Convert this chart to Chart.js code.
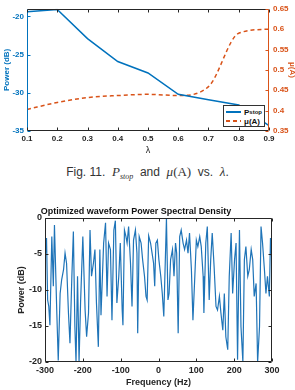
<!DOCTYPE html>
<html>
<head>
<meta charset="utf-8">
<script src="https://cdn.jsdelivr.net/npm/chart.js@4.4.0/dist/chart.umd.min.js"></script>
<style>
  html, body { margin: 0; padding: 0; background: #fff; width: 295px; height: 390px; overflow: hidden; }
  canvas { position: absolute; left: 0; }
  #topChart { top: 0; }
  #psdChart { top: 200px; }
  #caption {
    position: absolute; left: 0; top: 164px; width: 295px; text-align: center;
    font: 12px "Liberation Sans", Arial, sans-serif; color: #333; white-space: nowrap;
  }
  #caption .m { font-family: "Liberation Serif", "DejaVu Serif", serif; font-size: 13px; }
  #caption sub { font-family: "Liberation Serif", serif; font-style: italic; font-size: 8px; vertical-align: -3px; }
  #legend {
    position: absolute; left: 223px; top: 105px; width: 40px; height: 20px;
    border: 1px solid #333; background: #fff;
    font: bold 8px "Liberation Sans", Arial, sans-serif; color: #111;
  }
  #legend .row { position: absolute; left: 2px; height: 10px; display: flex; align-items: center; }
  #legend .sw { width: 15px; height: 1.5px; margin-right: 3px; }
  #legend .solid { background: #0072BD; }
  #legend .dash { background: repeating-linear-gradient(90deg, #D95319 0 4px, transparent 4px 7px); }
  #legend sub { font-size: 6px; vertical-align: -2px; }
</style>
</head>
<body>
<canvas id="topChart" width="295" height="160"></canvas>
<div id="legend">
  <div class="row" style="top:1px"><span class="sw solid"></span>P<sub>stop</sub></div>
  <div class="row" style="top:10px"><span class="sw dash"></span><span>&mu;(A)</span></div>
</div>
<div id="caption">Fig. 11.&nbsp; <i class="m">P</i><sub>stop</sub>&nbsp; and&nbsp; <i class="m">&mu;</i><span class="m">(A)</span>&nbsp; vs.&nbsp; <i class="m">&lambda;</i>.</div>
<canvas id="psdChart" width="295" height="190"></canvas>

<script>
// ---- Fig. 11 data ----
const lambdaVals = [0.1, 0.2, 0.3, 0.4, 0.5, 0.6, 0.7, 0.8, 0.9];
const pStop = [-19.4, -19.1, -22.9, -25.9, -27.4, -30.2, -30.9, -31.6, -34.3];
const muA = [0.403, 0.420, 0.432, 0.437, 0.440, 0.437, 0.459, 0.590, 0.600];
const lambdaTicks = [0.1, 0.2, 0.3, 0.4, 0.5, 0.6, 0.7, 0.8, 0.9];
const powerTicks = [-35, -30, -25, -20];
const muTicks = [0.35, 0.4, 0.45, 0.5, 0.55, 0.6, 0.65];

// ---- PSD data ----
const freqHz = [-300, -296, -293, -290, -287, -282, -278, -275, -269, -265, -260, -256, -251, -247, -243,
  -238, -234, -229, -225, -221, -218, -214, -210, -206, -200, -194, -190, -185, -181, -177, -172, -168,
  -164, -159, -155, -152, -145, -140, -136, -132, -127, -123, -118, -114, -110, -105, -101, -96, -94,
  -90, -86, -83, -79, -74, -70, -66, -61, -57, -55, -51, -46, -42, -37, -33, -30, -26, -21, -17, -13,
  -10, -7, -3, 1, 6, 10, 14, 21, 25, 28, 32, 37, 41, 45, 48, 52, 56, 60, 65, 69, 74, 78, 82, 87, 91,
  96, 100, 104, 109, 113, 118, 120, 125, 129, 134, 138, 142, 147, 152, 156, 161, 165, 170, 174, 178,
  183, 187, 192, 196, 201, 205, 209, 214, 218, 223, 227, 231, 236, 240, 245, 249, 253, 258, 262, 267,
  271, 275, 280, 284, 288, 293, 296, 300];
const psdDb = [-5.8, -2.8, -11.4, -12.3, -14.9, -2.6, -9.5, -1.0, -12.8, -19.8, -10.5, -8.6, -7.2, -4.9, -6.3,
  -13.2, -17.4, -8.1, -1.9, -15.1, -20, -8.1, -20, -11.8, -2.6, -12.8, -16.5, -13.2, -1.7, -8.1, -6.3, -4.4,
  -11.8, -17.9, -4.4, -13.5, -3.5, -0.7, -10.9, -3.5, -4.4, -14.2, -1.7, -0.4, -11.8, -8.1, -3.5, -12.8, -14.9,
  -1.7, -2.6, -3.5, -1.2, -6.3, -12.3, -3.1, -1.7, -4.9, -16, -2.6, -3.5, -5.8, -8.1, -10.9, -11.4, -2.5, -3.5, -4.9, -6.3,
  -9.5, -3.5, -3.1, -5.8, -8.1, -10.5, -13.7, -0.1, -11.4, -10.5, -5.8, -4.4, -8.1, -3.5, -4.9, -16, -2.6, -1.7, -3.5, -4.4, -3.1, -4.9, -2.1, -7.2, -14.2,
  -8.1, -3.1, -4.0, -2.6, -4.0, -8.1, -13.2, -3.5, -1.2, -11.4, -5.8, -2.1, -6.8, -12.3, -12.8, -10.9, -13.2, -15.6, -10.5, -16.5,
  -18.3, -8.1, -2.1, -10.5, -5.8, -3.5, -19.7, -1.7, -15.1, -20, -5.8, -4.0, -8.1, -7.2, -4.4, -5.8, -10.9, -9.1, -20, -15.1,
  -1.2, -3.5, -7.2, -10.5, -8.1, -10.9, -2.8, -6.3];
const freqTicks = [-300, -200, -100, 0, 100, 200, 300];
const psdTicks = [-20, -15, -10, -5, 0];

const BLUE = "#0072BD";
const ORANGE = "#D95319";
const AXIS = "#262626";
const FONT = "'Liberation Sans', Arial, sans-serif";

// frame with inward ticks, MATLAB style
const framePlugin = {
  id: "frame",
  afterDatasetsDraw(chart, args, opts) {
    const { ctx, chartArea: a, scales } = chart;
    const L = Math.round(a.left) + 0.5, R = Math.round(a.right) - 0.5;
    const T = Math.round(a.top) + 0.5, B = Math.round(a.bottom) - 0.5;
    const seg = (x1, y1, x2, y2, c) => {
      ctx.strokeStyle = c; ctx.beginPath(); ctx.moveTo(x1, y1); ctx.lineTo(x2, y2); ctx.stroke();
    };
    ctx.save();
    ctx.lineWidth = 1;
    seg(L, T, R, T, AXIS);
    seg(L, B, R, B, AXIS);
    seg(L, T, L, B, opts.leftColor || AXIS);
    seg(R, T, R, B, opts.rightColor || AXIS);
    const tl = 3;
    scales.x.ticks.forEach(t => {
      const x = Math.round(scales.x.getPixelForValue(t.value)) + 0.5;
      seg(x, B, x, B - tl, AXIS);
      seg(x, T, x, T + tl, AXIS);
    });
    scales.y.ticks.forEach(t => {
      const y = Math.round(scales.y.getPixelForValue(t.value)) + 0.5;
      seg(L, y, L + tl, y, opts.leftColor || AXIS);
      if (!scales.y1) seg(R, y, R - tl, y, AXIS);
    });
    if (scales.y1) {
      scales.y1.ticks.forEach(t => {
        const y = Math.round(scales.y1.getPixelForValue(t.value)) + 0.5;
        seg(R, y, R - tl, y, opts.rightColor);
      });
    }
    ctx.restore();
  }
};

const fixedTicks = arr => scale => { scale.ticks = arr.map(v => ({ value: v })); };
const noGrid = { display: false, drawTicks: false };

// ---- top chart: P_stop and mu(A) vs lambda ----
new Chart(document.getElementById("topChart"), {
  type: "line",
  data: {
    datasets: [
      {
        label: "P_stop",
        data: lambdaVals.map((x, i) => ({ x: x, y: pStop[i] })),
        borderColor: BLUE,
        borderWidth: 1.5,
        pointRadius: 0,
        yAxisID: "y"
      },
      {
        label: "mu(A)",
        data: lambdaVals.map((x, i) => ({ x: x, y: muA[i] })),
        borderColor: ORANGE,
        borderWidth: 1.5,
        borderDash: [4, 3],
        cubicInterpolationMode: "monotone",
        pointRadius: 0,
        yAxisID: "y1"
      }
    ]
  },
  options: {
    responsive: false,
    animation: false,
    layout: { padding: { top: 7, left: 0, right: 0, bottom: 0 } },
    plugins: { legend: { display: false }, tooltip: { enabled: false }, frame: { leftColor: BLUE, rightColor: ORANGE } },
    scales: {
      x: {
        type: "linear", min: 0.1, max: 0.9,
        afterBuildTicks: fixedTicks(lambdaTicks),
        afterFit: s => { s.height = 29; },
        grid: noGrid, border: { display: false },
        ticks: { padding: 3, color: AXIS, font: { family: FONT, size: 8, weight: "bold" }, maxRotation: 0,
                 callback: v => v.toFixed(1) },
        title: { display: true, text: "λ", color: AXIS, padding: { top: 0, bottom: 4 },
                 font: { family: FONT, size: 9 } }
      },
      y: {
        position: "left", min: -35, max: -19,
        afterBuildTicks: fixedTicks(powerTicks),
        afterFit: s => { s.width = 27; },
        grid: noGrid, border: { display: false },
        ticks: { padding: 3, color: BLUE, font: { family: FONT, size: 8, weight: "bold" } },
        title: { display: true, text: "Power (dB)", color: BLUE, padding: { top: 2, bottom: 0 },
                 font: { family: FONT, size: 8, weight: "bold" } }
      },
      y1: {
        position: "right", min: 0.35, max: 0.65,
        afterBuildTicks: fixedTicks(muTicks),
        afterFit: s => { s.width = 26; },
        grid: noGrid, border: { display: false },
        ticks: { padding: 4, color: ORANGE, font: { family: FONT, size: 8, weight: "bold" },
                 callback: v => String(v) },
        title: { display: true, text: "μ(A)", color: ORANGE, padding: { top: -2, bottom: 0 },
                 font: { family: FONT, size: 8, weight: "bold" } }
      }
    }
  },
  plugins: [framePlugin]
});

// ---- bottom chart: optimized waveform PSD ----
new Chart(document.getElementById("psdChart"), {
  type: "line",
  data: {
    datasets: [{
      label: "PSD",
      data: freqHz.map((f, i) => ({ x: f, y: psdDb[i] })),
      borderColor: "#1f74b8",
      borderWidth: 1.2,
      pointRadius: 0
    }]
  },
  options: {
    responsive: false,
    animation: false,
    layout: { padding: { top: 0, left: 0, right: 23, bottom: 0 } },
    plugins: {
      legend: { display: false }, tooltip: { enabled: false },
      title: { display: true, text: "Optimized waveform Power Spectral Density", color: "#111",
               padding: { top: 6, bottom: 1 }, font: { family: FONT, size: 9, weight: "bold", lineHeight: 1.2 } },
      frame: {}
    },
    scales: {
      x: {
        type: "linear", min: -300, max: 300,
        afterBuildTicks: fixedTicks(freqTicks),
        afterFit: s => { s.height = 28; },
        grid: noGrid, border: { display: false },
        ticks: { padding: 3, color: AXIS, maxRotation: 0, font: { family: FONT, size: 9, weight: "bold" } },
        title: { display: true, text: "Frequency (Hz)", color: AXIS, padding: { top: 0, bottom: 2 },
                 font: { family: FONT, size: 9, weight: "bold" } }
      },
      y: {
        min: -20, max: 0,
        afterBuildTicks: fixedTicks(psdTicks),
        afterFit: s => { s.width = 45; },
        grid: noGrid, border: { display: false },
        ticks: { padding: 3, color: AXIS, font: { family: FONT, size: 9, weight: "bold" } },
        title: { display: true, text: "Power (dB)", color: AXIS, padding: { top: 16, bottom: 0 },
                 font: { family: FONT, size: 9, weight: "bold" } }
      }
    }
  },
  plugins: [framePlugin]
});
</script>
</body>
</html>
